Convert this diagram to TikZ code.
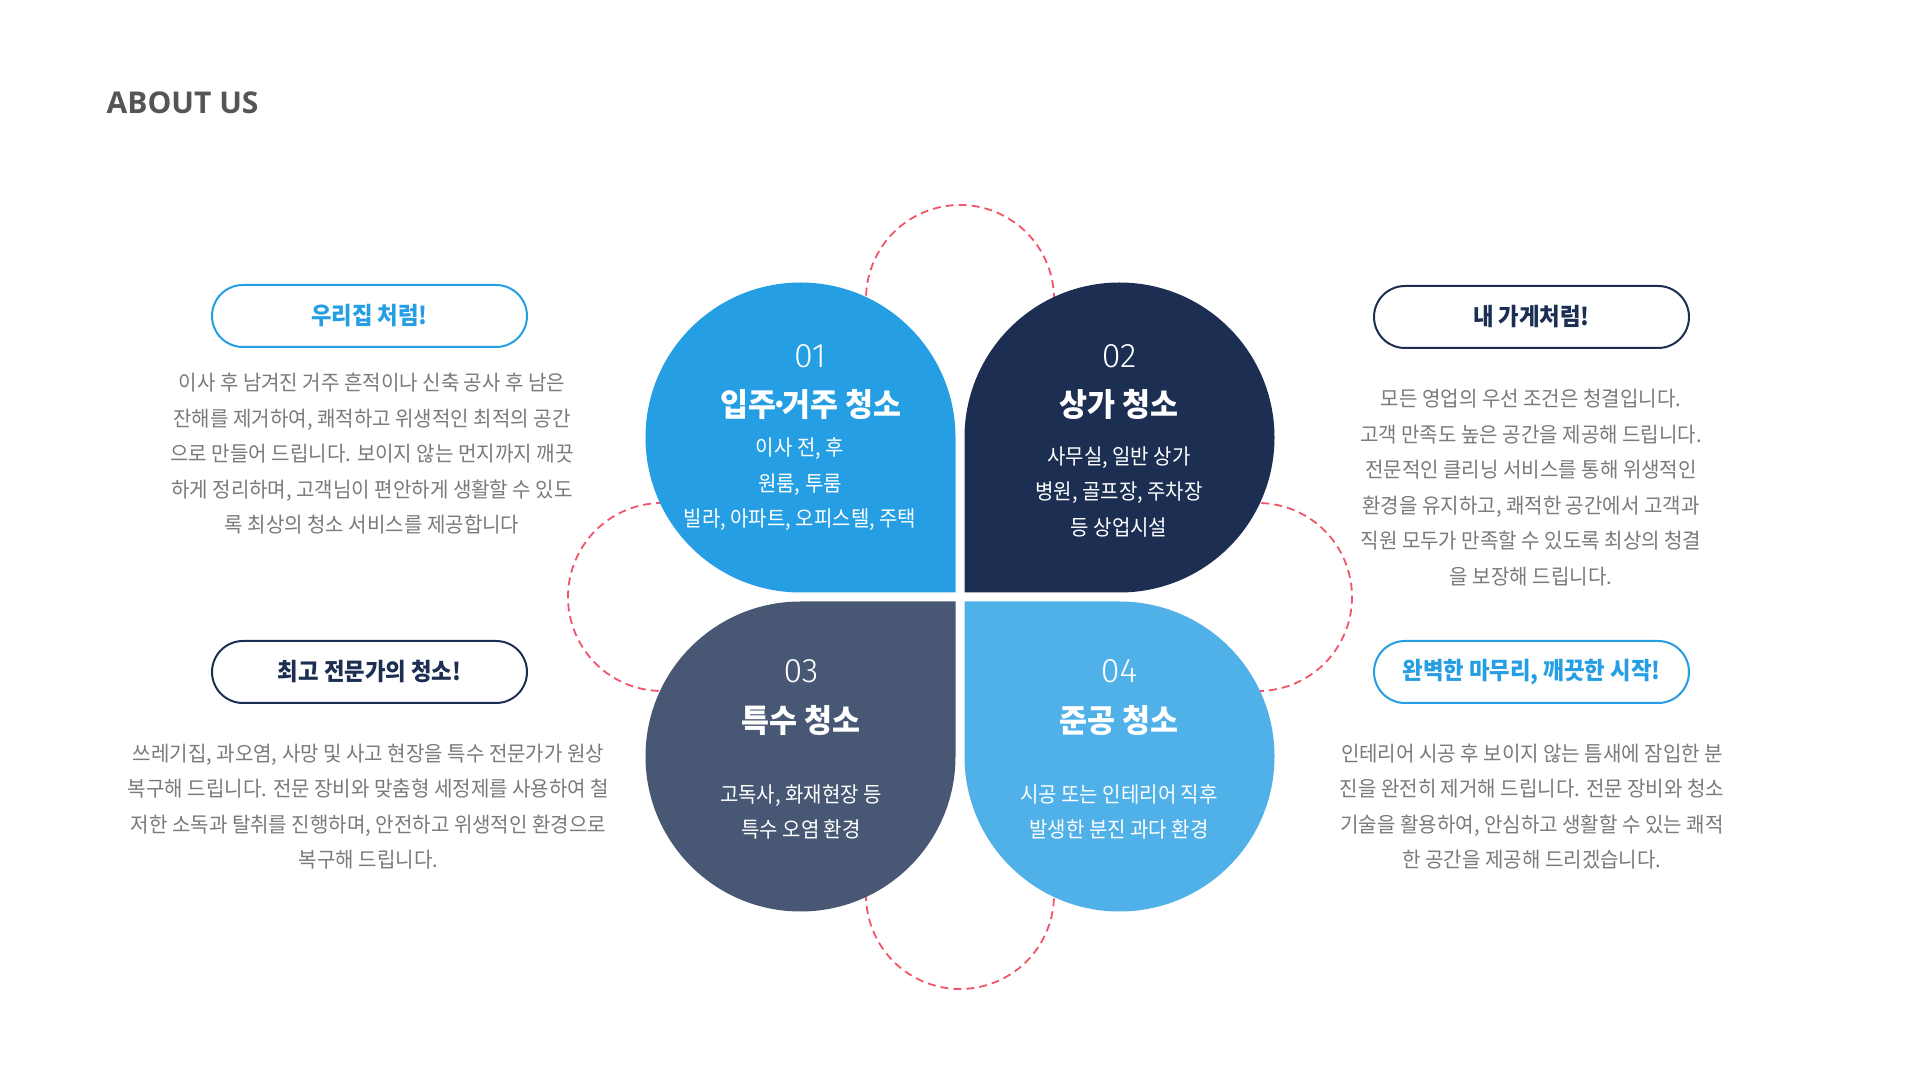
\documentclass[tikz,border=0pt]{standalone}
\usepackage{fontspec}
\setmainfont{Noto Sans CJK KR}
\newfontfamily\kr{Noto Sans CJK KR}[FakeStretch=0.955]
\newfontfamily\krt{Noto Sans CJK KR}[FakeStretch=0.93]
\newfontfamily\krh{Noto Sans CJK KR}[FakeStretch=0.95]
\newfontfamily\thinfont{Fira Sans Light}
\newfontfamily\latinfont{Open Sans}
\definecolor{cone}{RGB}{38,158,227}
\definecolor{ctwo}{RGB}{28,47,82}
\definecolor{cthree}{RGB}{72,88,116}
\definecolor{cfour}{RGB}{80,177,233}
\definecolor{dashred}{RGB}{242,85,105}
\definecolor{bodygray}{RGB}{122,122,122}
\definecolor{titlegray}{RGB}{85,85,85}
\begin{document}
\begin{tikzpicture}[x=1pt,y=1pt,
  petalnum/.style={font=\thinfont\fontsize{34}{40}\selectfont, text=white, inner sep=0pt},
  petaltitle/.style={font=\krh\bfseries\fontsize{32}{36}\selectfont, text=white, inner sep=0pt},
  petaltext/.style={font=\krt\fontsize{21.5}{35.5}\selectfont, text=white, inner sep=0pt, align=center},
  pill/.style={draw, line width=2pt, rounded corners=31pt, minimum width=315pt, minimum height=62pt, inner sep=0pt, font=\krt\bfseries\fontsize{24}{28}\selectfont},
  bodytext/.style={font=\kr\fontsize{21}{35.5}\selectfont, text=bodygray, align=center, inner sep=0pt},
  dashcircle/.style={draw=dashred, line width=1.8pt, dash pattern=on 8pt off 5pt}]
\useasboundingbox (0,0) rectangle (1920,1080);
\fill[white] (0,0) rectangle (1920,1080);

% title
\node[anchor=base west, inner sep=0pt, font=\latinfont\bfseries\fontsize{30}{36}\selectfont, text=titlegray] (title) at (106.5,966.7) {ABOUT US};

% dashed circles (behind petals)
\coordinate (ctop) at (960,781);
\coordinate (cbot) at (960,185);
\coordinate (cleft) at (662,483);
\coordinate (cright) at (1258,483);
\draw[dashcircle] (ctop) ++(-25:94) arc[start angle=-25, end angle=205, radius=94];
\draw[dashcircle] (cleft) ++(65:94) arc[start angle=65, end angle=295, radius=94];
\draw[dashcircle] (cbot) ++(155:94) arc[start angle=155, end angle=385, radius=94];
\draw[dashcircle] (cright) ++(-115:94) arc[start angle=-115, end angle=115, radius=94];

% petals
\fill[cone] (955.5,487.5) -- (955.5,642.5) arc[start angle=0, end angle=270, radius=155] -- cycle;
\fill[ctwo] (964.5,487.5) -- (1119.5,487.5) arc[start angle=-90, end angle=180, radius=155] -- cycle;
\fill[cthree] (955.5,478.5) -- (800.5,478.5) arc[start angle=90, end angle=360, radius=155] -- cycle;
\fill[cfour] (964.5,478.5) -- (964.5,323.5) arc[start angle=180, end angle=450, radius=155] -- cycle;

% petal 1
\node[petalnum] (n1) at (810,723.5) {01};
\node[petaltitle] (t1) at (811,675) {입주\kern-6pt·\kern-6pt거주 청소};
\node[petaltext] (d1) at (800,595.5) {이사 전, 후\\원룸, 투룸\\빌라, 아파트, 오피스텔, 주택};
% petal 2
\node[petalnum] (n2) at (1119,723.5) {02};
\node[petaltitle] (t2) at (1119,675) {상가 청소};
\node[petaltext] (d2) at (1119,588.5) {사무실, 일반 상가\\병원, 골프장, 주차장\\등 상업시설};
% petal 3
\node[petalnum] (n3) at (801,409) {03};
\node[petaltitle] (t3) at (801,359.5) {특수 청소};
\node[petaltext] (d3) at (801,268) {고독사, 화재현장 등\\특수 오염 환경};
% petal 4
\node[petalnum] (n4) at (1119,409) {04};
\node[petaltitle] (t4) at (1119,359.5) {준공 청소};
\node[petaltext] (d4) at (1119,268) {시공 또는 인테리어 직후\\발생한 분진 과다 환경};

% pills
\node[pill, draw=cone, text=cone] (p1) at (369.5,764) {우리집 처럼!};
\node[pill, draw=ctwo, text=ctwo] (p2) at (1531.5,763) {내 가게처럼!};
\node[pill, draw=ctwo, text=ctwo] (p3) at (369.5,408) {최고 전문가의 청소!};
\node[pill, draw=cone, text=cone] (p4) at (1531.5,408) {완벽한 마무리, 깨끗한 시작!};

% body texts
\node[bodytext] (b1) at (372,626) {이사 후 남겨진 거주 흔적이나 신축 공사 후 남은\\잔해를 제거하여, 쾌적하고 위생적인 최적의 공간\\으로 만들어 드립니다. 보이지 않는 먼지까지 깨끗\\하게 정리하며, 고객님이 편안하게 생활할 수 있도\\록 최상의 청소 서비스를 제공합니다};
\node[bodytext] (b2) at (1531,592.5) {모든 영업의 우선 조건은 청결입니다.\\고객 만족도 높은 공간을 제공해 드립니다.\\전문적인 클리닝 서비스를 통해 위생적인\\환경을 유지하고, 쾌적한 공간에서 고객과\\직원 모두가 만족할 수 있도록 최상의 청결\\을 보장해 드립니다.};
\node[bodytext] (b3) at (368.5,273.5) {쓰레기집, 과오염, 사망 및 사고 현장을 특수 전문가가 원상\\복구해 드립니다. 전문 장비와 맞춤형 세정제를 사용하여 철\\저한 소독과 탈취를 진행하며, 안전하고 위생적인 환경으로\\복구해 드립니다.};
\node[bodytext] (b4) at (1532,273.5) {인테리어 시공 후 보이지 않는 틈새에 잠입한 분\\진을 완전히 제거해 드립니다. 전문 장비와 청소\\기술을 활용하여, 안심하고 생활할 수 있는 쾌적\\한 공간을 제공해 드리겠습니다.};
\end{tikzpicture}
\end{document}
